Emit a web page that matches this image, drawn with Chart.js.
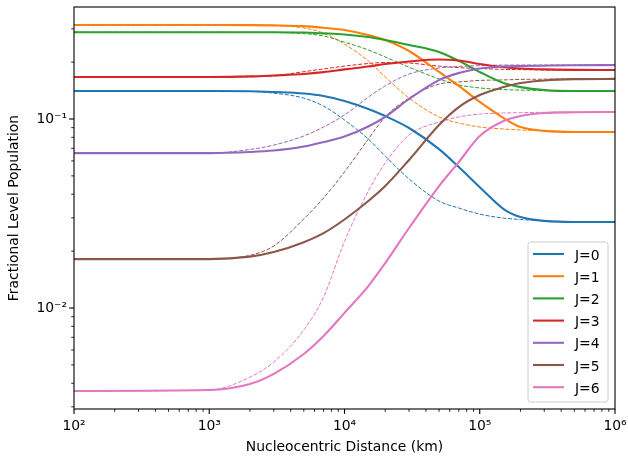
<!DOCTYPE html>
<html>
<head>
<meta charset="utf-8">
<script src="https://cdn.jsdelivr.net/npm/chart.js@4.4.0/dist/chart.umd.min.js"></script>
<style>
html,body{margin:0;padding:0;background:#ffffff;}
#wrap{width:628px;height:462px;position:relative;}
</style>
</head>
<body>
<div id="wrap"><canvas id="c" width="628" height="462"></canvas></div>
<script>
// ---------------- data ----------------
const distances = [100, 1000, 2000, 3000, 5000, 7000, 10000, 15000, 20000, 30000, 50000, 70000, 100000, 150000, 200000, 300000, 500000, 1000000];
const levelLabels = ['J=0', 'J=1', 'J=2', 'J=3', 'J=4', 'J=5', 'J=6'];
const xTickValues = [1e2, 1e3, 1e4, 1e5, 1e6];
const yTickValues = [1e-2, 1e-1];

// solid curves
const j0 = [0.1406, 0.1406, 0.1403, 0.139, 0.1365, 0.1325, 0.1245, 0.113, 0.1037, 0.0896, 0.0693, 0.0557, 0.0436, 0.0334, 0.0303, 0.0289, 0.0285, 0.0285];
const j1 = [0.3145, 0.3145, 0.314, 0.313, 0.310, 0.304, 0.296, 0.278, 0.262, 0.229, 0.1774, 0.1496, 0.1231, 0.1012, 0.0907, 0.0865, 0.0854, 0.0854];
const j2 = [0.288, 0.288, 0.288, 0.288, 0.287, 0.284, 0.280, 0.2715, 0.262, 0.2465, 0.2265, 0.203, 0.1774, 0.155, 0.1475, 0.1422, 0.1406, 0.1406];
const j3 = [0.1668, 0.1668, 0.168, 0.170, 0.173, 0.177, 0.183, 0.1897, 0.1954, 0.2015, 0.2065, 0.204, 0.1954, 0.188, 0.185, 0.183, 0.182, 0.1816];
const j4 = [0.066, 0.066, 0.0669, 0.0681, 0.0715, 0.0755, 0.0808, 0.0913, 0.1026, 0.1276, 0.1607, 0.175, 0.185, 0.1897, 0.1906, 0.1915, 0.1925, 0.193];
const j5 = [0.01815, 0.01815, 0.0187, 0.01977, 0.0223, 0.0249, 0.0294, 0.0368, 0.0442, 0.0607, 0.0929, 0.1156, 0.1339, 0.1475, 0.155, 0.160, 0.1625, 0.163];
const j6 = [0.00364, 0.00368, 0.00396, 0.00448, 0.00571, 0.00711, 0.00942, 0.01307, 0.0173, 0.0265, 0.0442, 0.0592, 0.0813, 0.0976, 0.1037, 0.1076, 0.1085, 0.109];

// dashed curves
const j0d = [0.1406, 0.1406, 0.140, 0.137, 0.129, 0.117, 0.0988, 0.0783, 0.0637, 0.0482, 0.0368, 0.0338, 0.0314, 0.0299, 0.0294, 0.0289, 0.0286, 0.0285];
const j1d = [0.3145, 0.3145, 0.314, 0.312, 0.303, 0.285, 0.249, 0.203, 0.167, 0.129, 0.1026, 0.0952, 0.0907, 0.0885, 0.0875, 0.0866, 0.0858, 0.0854];
const j2d = [0.288, 0.288, 0.288, 0.287, 0.283, 0.275, 0.255, 0.232, 0.213, 0.188, 0.163, 0.1514, 0.146, 0.1432, 0.1422, 0.1415, 0.1408, 0.1406];
const j3d = [0.1668, 0.1668, 0.1672, 0.169, 0.178, 0.184, 0.1905, 0.1966, 0.199, 0.1977, 0.1905, 0.187, 0.185, 0.183, 0.1825, 0.1818, 0.1816, 0.1816];
const j4d = [0.066, 0.066, 0.069, 0.0728, 0.0813, 0.0907, 0.105, 0.1306, 0.1496, 0.173, 0.186, 0.1897, 0.1915, 0.193, 0.193, 0.193, 0.193, 0.193];
const j5d = [0.01815, 0.01815, 0.0190, 0.0213, 0.0296, 0.0382, 0.0525, 0.0783, 0.1026, 0.129, 0.153, 0.157, 0.160, 0.161, 0.162, 0.1625, 0.163, 0.163];
const j6d = [0.00364, 0.00368, 0.00431, 0.00518, 0.00765, 0.01143, 0.0225, 0.0416, 0.0585, 0.0823, 0.0964, 0.1026, 0.1062, 0.1076, 0.108, 0.1085, 0.1088, 0.109];

const colors = ['#1f77b4', '#ff7f0e', '#2ca02c', '#d62728', '#9467bd', '#8c564b', '#e377c2'];
const solidSeries = [j0, j1, j2, j3, j4, j5, j6];
const dashedSeries = [j0d, j1d, j2d, j3d, j4d, j5d, j6d];

// ---------------- chart ----------------
const FONT = 'DejaVu Sans';
const FS = 13.9;
const supMap = {'-': '\u207B', '0': '\u2070', '1': '\u00B9', '2': '\u00B2', '3': '\u00B3', '4': '\u2074', '5': '\u2075', '6': '\u2076', '7': '\u2077', '8': '\u2078', '9': '\u2079'};
function powLabel(v) {
  const e = Math.round(Math.log10(v));
  return '10' + String(e).split('').map(c => supMap[c]).join('');
}
function toPoints(arr) { return distances.map((d, i) => ({x: d, y: arr[i]})); }

const datasets = [];
solidSeries.forEach((s, i) => {
  datasets.push({
    label: levelLabels[i], data: toPoints(s), borderColor: colors[i], backgroundColor: colors[i],
    borderWidth: 2.1, pointRadius: 0, fill: false, cubicInterpolationMode: 'monotone', order: 7 - i, isSolid: true
  });
});
dashedSeries.forEach((s, i) => {
  datasets.push({
    label: levelLabels[i] + ' (dashed)', data: toPoints(s), borderColor: colors[i], backgroundColor: colors[i],
    borderWidth: 1, borderDash: [4, 1.7], pointRadius: 0, fill: false, cubicInterpolationMode: 'monotone', order: 20 - i, isSolid: false
  });
});

function zeroPad(s) { s.paddingLeft = 0; s.paddingRight = 0; s.paddingTop = 0; s.paddingBottom = 0; }

const framePlugin = {
  id: 'frameTicksLegend',
  afterDraw(chart) {
    const {ctx, chartArea: a, scales} = chart;
    ctx.save();
    ctx.strokeStyle = '#000';
    const drawTicks = (scale, horiz) => {
      const min = scale.min, max = scale.max;
      for (let e = Math.floor(Math.log10(min)); e <= Math.ceil(Math.log10(max)); e++) {
        for (let m = 1; m <= 9; m++) {
          const v = m * Math.pow(10, e);
          if (v < min * 0.9999 || v > max * 1.0001) continue;
          const p = scale.getPixelForValue(v);
          const major = (m === 1);
          const len = major ? 4.9 : 2.8;
          ctx.lineWidth = major ? 1.1 : 0.85;
          ctx.beginPath();
          if (horiz) { ctx.moveTo(p, a.bottom); ctx.lineTo(p, a.bottom + len); }
          else { ctx.moveTo(a.left, p); ctx.lineTo(a.left - len, p); }
          ctx.stroke();
        }
      }
    };
    drawTicks(scales.x, true);
    drawTicks(scales.y, false);
    ctx.lineWidth = 1.1;
    ctx.strokeRect(a.left, a.top, a.right - a.left, a.bottom - a.top);

    // legend
    const items = chart.data.datasets.filter(d => d.isSolid);
    const bw = 80, pitch = 22.2;
    const bh = 160;
    const bx = a.right - 7 - bw, by = a.bottom - 7 - bh;
    const r = 2.8;
    ctx.beginPath();
    ctx.moveTo(bx + r, by);
    ctx.lineTo(bx + bw - r, by); ctx.quadraticCurveTo(bx + bw, by, bx + bw, by + r);
    ctx.lineTo(bx + bw, by + bh - r); ctx.quadraticCurveTo(bx + bw, by + bh, bx + bw - r, by + bh);
    ctx.lineTo(bx + r, by + bh); ctx.quadraticCurveTo(bx, by + bh, bx, by + bh - r);
    ctx.lineTo(bx, by + r); ctx.quadraticCurveTo(bx, by, bx + r, by);
    ctx.closePath();
    ctx.fillStyle = 'rgba(255,255,255,0.8)';
    ctx.fill();
    ctx.strokeStyle = '#cccccc';
    ctx.lineWidth = 1;
    ctx.stroke();
    ctx.font = FS + 'px "' + FONT + '"';
    ctx.textAlign = 'left';
    ctx.textBaseline = 'alphabetic';
    items.forEach((d, i) => {
      const yy = by + 12 + i * pitch;
      ctx.strokeStyle = d.borderColor;
      ctx.lineWidth = 2.1;
      ctx.beginPath();
      ctx.moveTo(bx + 5, yy); ctx.lineTo(bx + 36, yy);
      ctx.stroke();
      ctx.fillStyle = '#000';
      ctx.fillText(d.label, bx + 47, yy + 5.5);
    });
    ctx.restore();
  }
};

new Chart(document.getElementById('c'), {
  type: 'line',
  data: {datasets},
  plugins: [framePlugin],
  options: {
    responsive: false,
    animation: false,
    devicePixelRatio: 1,
    layout: {padding: {top: 7, right: 13, left: 0, bottom: 0}},
    plugins: {legend: {display: false}, tooltip: {enabled: false}},
    scales: {
      x: {
        type: 'logarithmic', position: 'bottom', min: 100, max: 1e6,
        grid: {display: false, drawTicks: false}, border: {display: false},
        afterBuildTicks: s => { s.ticks = xTickValues.map(v => ({value: v})); },
        afterFit: s => { s.height = 53; zeroPad(s); },
        ticks: {color: '#000', font: {family: FONT, size: FS}, padding: 9, maxRotation: 0, autoSkip: false,
          callback: v => powLabel(v)},
        title: {display: true, text: 'Nucleocentric Distance (km)', color: '#000', font: {family: FONT, size: FS}, padding: {top: 0, bottom: 6}}
      },
      y: {
        type: 'logarithmic', position: 'left', min: 0.002922, max: 0.3914,
        grid: {display: false, drawTicks: false}, border: {display: false},
        afterBuildTicks: s => { s.ticks = yTickValues.map(v => ({value: v})); },
        afterFit: s => { s.width = 74; zeroPad(s); },
        ticks: {color: '#000', font: {family: FONT, size: FS}, padding: 7, autoSkip: false,
          callback: v => powLabel(v)},
        title: {display: true, text: 'Fractional Level Population', color: '#000', font: {family: FONT, size: FS}, padding: {top: 6, bottom: 0}}
      }
    }
  }
});
</script>
</body>
</html>
